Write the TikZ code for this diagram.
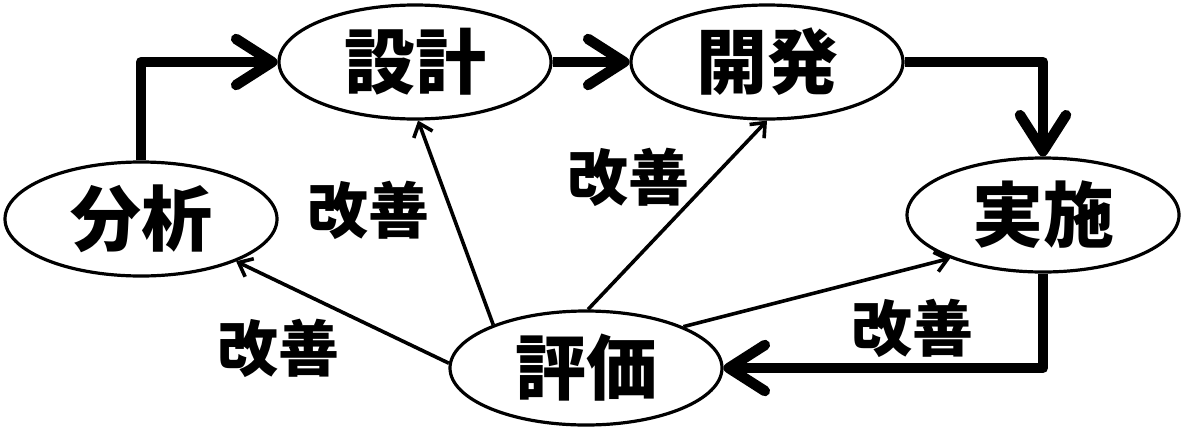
\documentclass[tikz,border=0pt]{standalone}
\usepackage{fontspec}
\newfontfamily\jp{Noto Sans CJK JP}
\usetikzlibrary{shapes.geometric,arrows.meta}
\tikzset{
  stage/.style={ellipse,draw,line width=3.2pt,minimum width=272pt,minimum height=114pt,inner sep=0pt,
    font=\jp\bfseries\fontsize{71pt}{71pt}\selectfont},
  flow/.style={line width=10.5pt,line join=round,-{Straight Barb[length=36pt,width=46pt,round]}},
  improve/.style={line width=3.6pt,-{Straight Barb[length=12pt,width=20pt]}},
  lbl/.style={inner sep=0pt,font=\jp\bfseries\fontsize{61pt}{61pt}\selectfont}
}
\begin{document}
\begin{tikzpicture}[x=1pt,y=-1pt]
\useasboundingbox[fill=white] (0,0) rectangle (1190,426);
\node[stage] (bunseki) at (141,219) {分析};
\node[stage] (sekkei) at (415,62) {設計};
\node[stage] (kaihatsu) at (767,62) {開発};
\node[stage] (jisshi) at (1043,215) {実施};
\node[stage] (hyouka) at (586,368) {評価};
\draw[flow] (bunseki.north) |- (sekkei.west);
\draw[flow] (sekkei.east) -- (kaihatsu.west);
\draw[flow] (kaihatsu.east) -| (jisshi.north);
\draw[flow] (jisshi.south) |- (hyouka.east);
\draw[improve] (hyouka.178) -- (bunseki.-24);
\draw[improve] (hyouka.155) -- (sekkei.-87);
\draw[improve] (hyouka.88) -- (kaihatsu.-90);
\draw[improve] (hyouka.23) -- (jisshi.205);
\node[lbl] (l1) at (278,348) {改善};
\node[lbl] (l2) at (368,210) {改善};
\node[lbl] (l3) at (628,177) {改善};
\node[lbl] (l4) at (912,328) {改善};
\end{tikzpicture}
\end{document}
